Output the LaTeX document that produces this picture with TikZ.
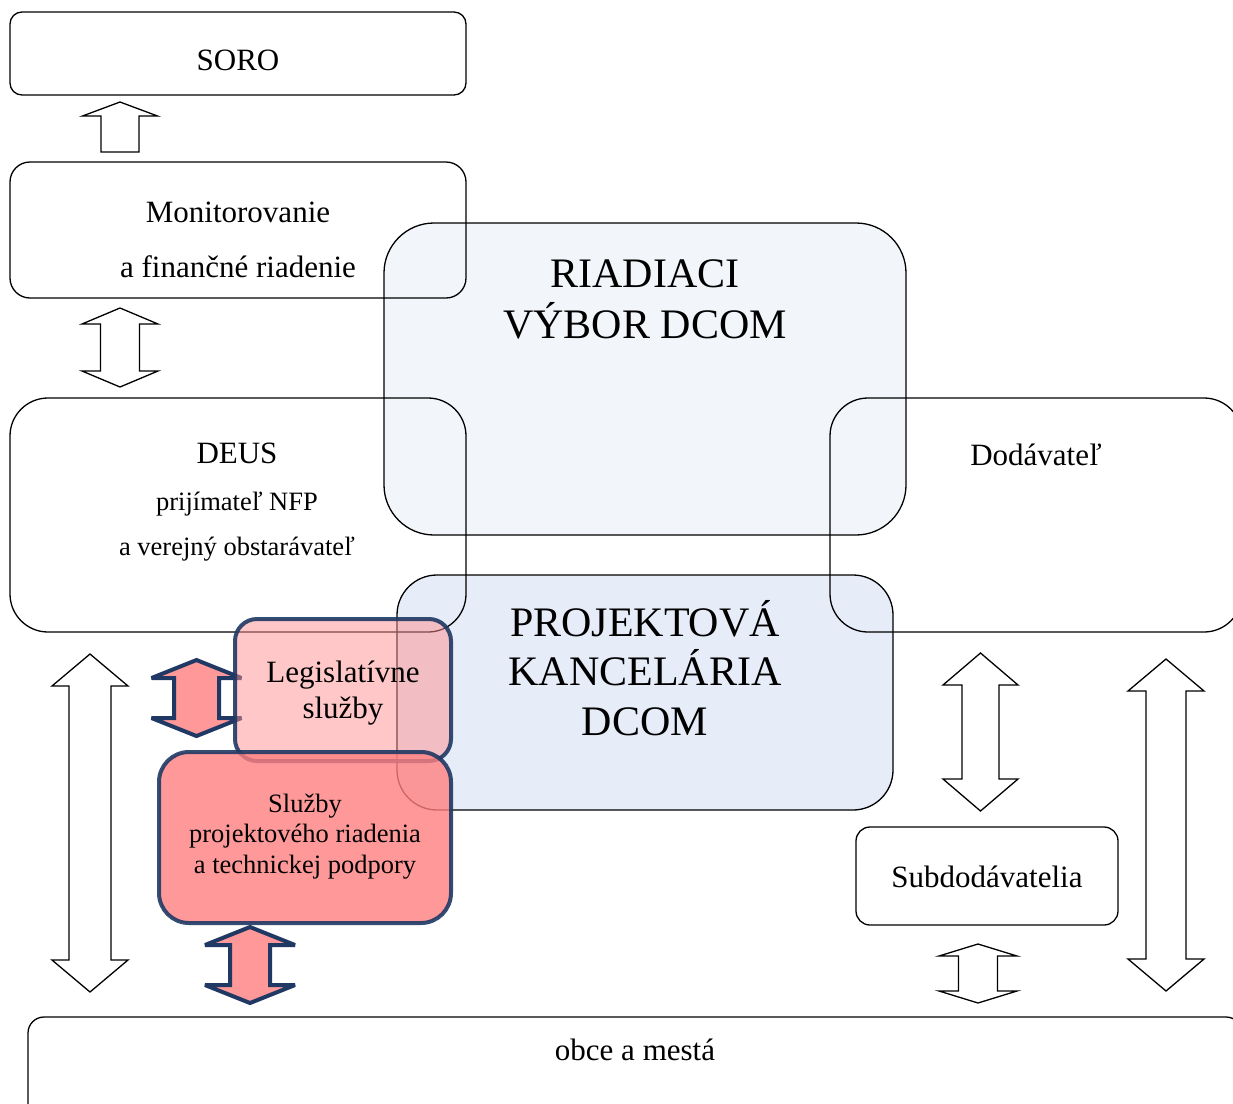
\documentclass[tikz,border=0pt]{standalone}
\usepackage{fontspec}
\setmainfont{Liberation Serif}
\definecolor{navy}{HTML}{1F3864}
\definecolor{rvfill}{HTML}{F2F5FA}
\definecolor{pkfill}{HTML}{E6EDF8}
\definecolor{legfill}{HTML}{FF9090}
\definecolor{sluzfill}{HTML}{FF8080}
\definecolor{arrfill}{HTML}{FF9999}
\newcommand\vdblarrow[7]{\path[#1] (#2,#3) -- ({#2+#5},{#3+#7}) -- ({#2+#6},{#3+#7}) -- ({#2+#6},{#4-#7}) -- ({#2+#5},{#4-#7}) -- (#2,#4) -- ({#2-#5},{#4-#7}) -- ({#2-#6},{#4-#7}) -- ({#2-#6},{#3+#7}) -- ({#2-#5},{#3+#7}) -- cycle;}
\newcommand\vuparrow[7]{\path[#1] (#2,#3) -- ({#2+#5},{#3+#7}) -- ({#2+#6},{#3+#7}) -- ({#2+#6},#4) -- ({#2-#6},#4) -- ({#2-#6},{#3+#7}) -- ({#2-#5},{#3+#7}) -- cycle;}
\tikzset{
  box/.style={draw=black, line width=1.3pt, inner sep=0pt, outer sep=0pt, shape=rectangle},
  thickbox/.style={draw=navy, draw opacity=0.9, line width=4pt, inner sep=0pt, outer sep=0pt, shape=rectangle},
  lbl/.style={anchor=base, inner sep=0pt, font=\fontsize{31}{37}\selectfont},
  slbl/.style={anchor=base, inner sep=0pt, font=\fontsize{26.5}{32}\selectfont},
  blbl/.style={anchor=base, inner sep=0pt, font=\fontsize{42}{50}\selectfont},
  hollow/.style={draw=black, line width=1.3pt, fill=white, line join=miter},
  pinkarrow/.style={draw=navy, line width=4pt, fill=arrfill, line join=miter, miter limit=3},
}
\begin{document}
\begin{tikzpicture}[x=1pt, y=-1pt]
\useasboundingbox (0,0) rectangle (1233,1103);
% blue boxes
\node[box, fill=rvfill, minimum width=522pt, minimum height=312pt, rounded corners=50pt] (rv) at (645,379) {};
\node[box, fill=pkfill, minimum width=496pt, minimum height=235pt, rounded corners=40pt] (pk) at (645,692.5) {};
% white boxes
\node[box, minimum width=456pt, minimum height=83pt, rounded corners=12pt] (soro) at (238,53.5) {};
\node[box, minimum width=456pt, minimum height=136pt, rounded corners=20pt] (mon) at (238,230) {};
\node[box, minimum width=456pt, minimum height=234pt, rounded corners=38pt] (deus) at (238,515) {};
\node[box, minimum width=412pt, minimum height=234pt, rounded corners=38pt] (dod) at (1036,515) {};
\node[box, minimum width=262pt, minimum height=98pt, rounded corners=14pt] (sub) at (987,876) {};
\node[box, minimum width=1214pt, minimum height=103pt, rounded corners=16pt] (obce) at (635,1068.5) {};
% hollow arrows
\vuparrow{hollow}{120}{102}{152}{37.5}{19}{14}
\vdblarrow{hollow}{120}{308}{387}{38}{19.5}{16}
\vdblarrow{hollow}{90}{654}{992}{38}{21}{32}
\vdblarrow{hollow}{980.5}{653}{811}{37.5}{18.5}{32}
\vdblarrow{hollow}{1166}{659}{991}{38}{20}{32}
\vdblarrow{hollow}{978}{944}{1003}{39}{19.5}{12}
% pink arrows
\vdblarrow{pinkarrow}{196.5}{660}{736}{45}{22.5}{18}
\vdblarrow{pinkarrow}{250}{927}{1003}{45}{20}{18}
% pink boxes
\node[thickbox, fill=legfill, fill opacity=0.5, minimum width=216pt, minimum height=142pt, rounded corners=22pt] (leg) at (343,690) {};
\node[thickbox, fill=sluzfill, fill opacity=0.8, minimum width=292pt, minimum height=171pt, rounded corners=30pt] (sluz) at (305,837.5) {};
% labels
\node[lbl] (tsoro) at (238,70) {SORO};
\node[lbl] (tmon1) at (238,222) {Monitorovanie};
\node[lbl] (tmon2) at (238,277) {a finančné riadenie};
\node[lbl] (tdeus1) at (237,463) {DEUS};
\node[slbl] (tdeus2) at (237,510) {prijímateľ NFP};
\node[slbl] (tdeus3) at (237,555) {a verejný obstarávateľ};
\node[blbl] (trv1) at (645,287) {RIADIACI};
\node[blbl] (trv2) at (645,338) {VÝBOR DCOM};
\node[lbl] (tdod) at (1036,465) {Dodávateľ};
\node[blbl] (tpk1) at (645,636) {PROJEKTOVÁ};
\node[blbl] (tpk2) at (645,685) {KANCELÁRIA};
\node[blbl] (tpk3) at (645,735) {DCOM};
\node[lbl] (tleg1) at (343,682) {Legislatívne};
\node[lbl] (tleg2) at (343,718) {služby};
\node[slbl] (tsl1) at (305,812) {Služby};
\node[slbl] (tsl2) at (305,842) {projektového riadenia};
\node[slbl] (tsl3) at (305,873) {a technickej podpory};
\node[lbl] (tsub) at (987,887) {Subdodávatelia};
\node[lbl] (tobce) at (635,1060) {obce a mestá};
\end{tikzpicture}
\end{document}
